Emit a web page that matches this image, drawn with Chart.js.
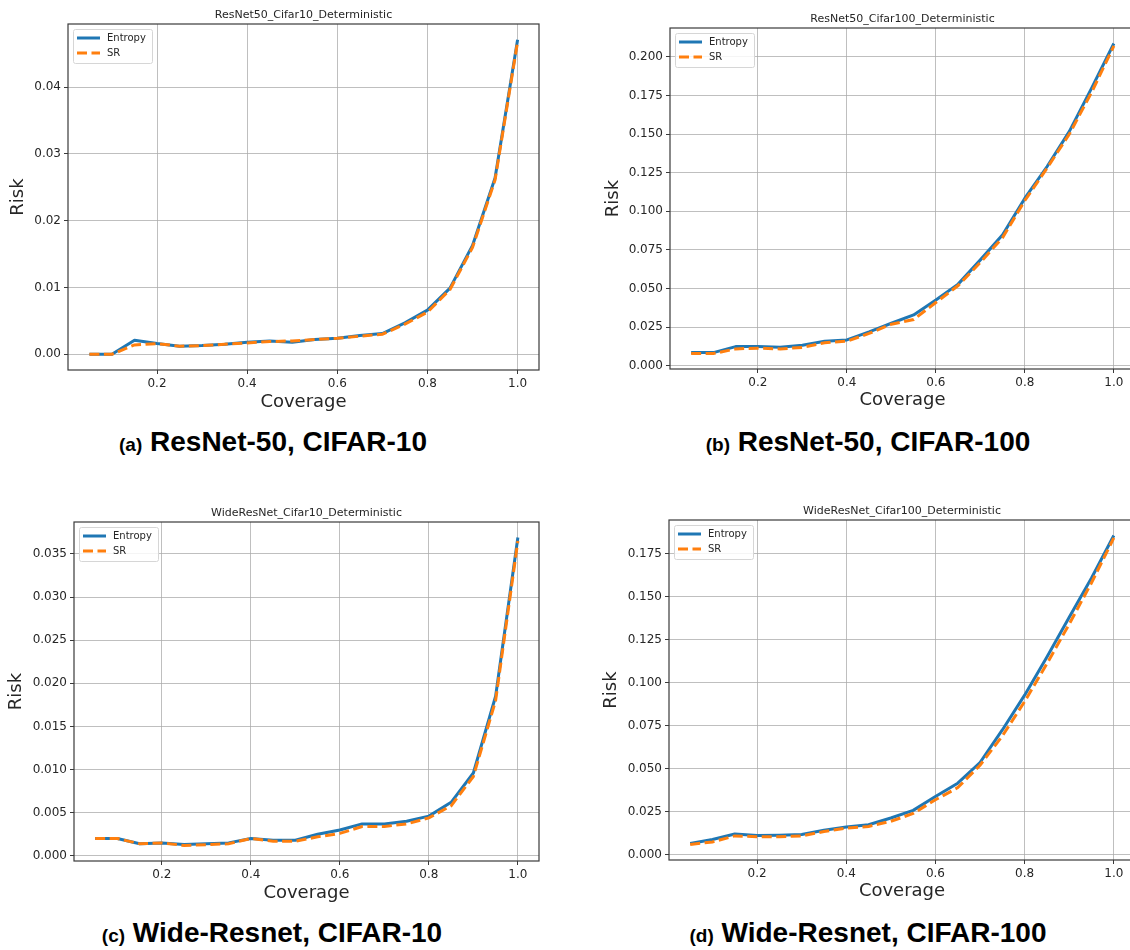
<!DOCTYPE html>
<html>
<head>
<meta charset="utf-8">
<script src="https://cdn.jsdelivr.net/npm/chart.js@4.4.0/dist/chart.umd.min.js"></script>
<style>
  html, body { margin: 0; padding: 0; background: #fff; }
  html { overflow: hidden; }
  body { width: 1130px; height: 950px; overflow: hidden; position: relative; }
  .panel { position: absolute; height: 420px; }
  .panel canvas { display: block; }
  .caption {
    position: absolute;
    transform: translate(-50%, -50%);
    font-family: "Liberation Sans", Arial, sans-serif;
    font-weight: bold;
    font-size: 28px;
    color: #000;
    white-space: nowrap;
  }
  .caption span { font-size: 19px; }
</style>
</head>
<body>
<div class="panel" style="left:0px;top:0px;width:560px"><canvas id="pa" width="560" height="420"></canvas></div>
<div class="panel" style="left:590px;top:0px;width:620px"><canvas id="pb" width="620" height="420"></canvas></div>
<div class="panel" style="left:0px;top:490px;width:560px"><canvas id="pc" width="560" height="420"></canvas></div>
<div class="panel" style="left:590px;top:490px;width:620px"><canvas id="pd" width="620" height="420"></canvas></div>

<div class="caption" style="left:273px;top:442px"><span>(a)</span> ResNet-50, CIFAR-10</div>
<div class="caption" style="left:868px;top:442px"><span>(b)</span> ResNet-50, CIFAR-100</div>
<div class="caption" style="left:272px;top:933px"><span>(c)</span> Wide-Resnet, CIFAR-10</div>
<div class="caption" style="left:868px;top:933px"><span>(d)</span> Wide-Resnet, CIFAR-100</div>

<script>
// ---- data ----
const coverage = [0.05, 0.10, 0.15, 0.20, 0.25, 0.30, 0.35, 0.40, 0.45, 0.50,
                  0.55, 0.60, 0.65, 0.70, 0.75, 0.80, 0.85, 0.90, 0.95, 1.00];
const seriesNames = ['Entropy', 'SR'];
const xTicks = [0.2, 0.4, 0.6, 0.8, 1.0];

// ResNet50 / Cifar10
const r50c10Entropy = [0.0000, 0.0000, 0.0021, 0.0016, 0.0012, 0.0013, 0.0015, 0.0018, 0.0020, 0.0018,
                       0.0022, 0.0024, 0.0028, 0.0031, 0.0047, 0.0066, 0.0099, 0.0163, 0.0264, 0.0471];
const r50c10SR      = [0.0000, 0.0000, 0.0014, 0.0016, 0.0012, 0.0013, 0.0015, 0.0017, 0.0019, 0.0020,
                       0.0022, 0.0024, 0.0027, 0.0030, 0.0045, 0.0063, 0.0097, 0.0160, 0.0261, 0.0468];
const r50c10Ticks   = [0, 0.01, 0.02, 0.03, 0.04];

// ResNet50 / Cifar100
const r50c100Entropy = [0.0086, 0.0086, 0.0125, 0.0125, 0.0120, 0.0134, 0.0160, 0.0168, 0.0220, 0.0276,
                        0.0330, 0.0427, 0.0529, 0.0686, 0.0848, 0.1085, 0.1290, 0.1517, 0.1797, 0.2086];
const r50c100SR      = [0.0080, 0.0080, 0.0110, 0.0115, 0.0110, 0.0120, 0.0150, 0.0160, 0.0210, 0.0270,
                        0.0300, 0.0410, 0.0520, 0.0670, 0.0830, 0.1070, 0.1280, 0.1500, 0.1770, 0.2070];
const r50c100Ticks   = [0, 0.025, 0.05, 0.075, 0.1, 0.125, 0.15, 0.175, 0.2];

// WideResNet / Cifar10
const wrnC10Entropy = [0.0020, 0.0020, 0.0014, 0.0015, 0.0013, 0.0014, 0.0015, 0.0020, 0.0018, 0.0018,
                       0.0025, 0.0030, 0.0037, 0.0037, 0.0040, 0.0046, 0.0062, 0.0096, 0.0185, 0.0369];
const wrnC10SR      = [0.0020, 0.0020, 0.0014, 0.0015, 0.0012, 0.0013, 0.0014, 0.0020, 0.0017, 0.0017,
                       0.0022, 0.0026, 0.0034, 0.0034, 0.0037, 0.0044, 0.0058, 0.0092, 0.0180, 0.0365];
const wrnC10Ticks   = [0, 0.005, 0.01, 0.015, 0.02, 0.025, 0.03, 0.035];

// WideResNet / Cifar100
const wrnC100Entropy = [0.0066, 0.0089, 0.0121, 0.0112, 0.0114, 0.0118, 0.0143, 0.0162, 0.0175, 0.0214,
                        0.0258, 0.0339, 0.0416, 0.0536, 0.0725, 0.0927, 0.1149, 0.1380, 0.1607, 0.1854];
const wrnC100SR      = [0.0060, 0.0075, 0.0110, 0.0105, 0.0105, 0.0110, 0.0135, 0.0155, 0.0165, 0.0195,
                        0.0240, 0.0320, 0.0390, 0.0520, 0.0690, 0.0890, 0.1110, 0.1340, 0.1580, 0.1840];
const wrnC100Ticks   = [0, 0.025, 0.05, 0.075, 0.1, 0.125, 0.15, 0.175];

// ---- styling ----
const TXT = '#262626';
const FONT = 'DejaVu Sans';
const GRID = 'rgba(170,170,170,0.75)';
const SPINE = '#3a3a3a';

// matplotlib-like full box around the axes
const framePlugin = {
  id: 'frame',
  afterDatasetsDraw(chart) {
    const { ctx, chartArea: a } = chart;
    ctx.save();
    ctx.strokeStyle = SPINE;
    ctx.lineWidth = 1.2;
    ctx.strokeRect(a.left, a.top, a.right - a.left, a.bottom - a.top);
    ctx.restore();
  }
};

// legend box in the upper-left corner of the axes
const insetLegend = {
  id: 'insetLegend',
  afterDraw(chart) {
    const { ctx, chartArea: a } = chart;
    const x = Math.round(a.left) + 5, y = Math.round(a.top) + 5, w = 79, h = 34;
    ctx.save();
    ctx.fillStyle = 'rgba(255,255,255,0.85)';
    ctx.strokeStyle = '#d6d6d6';
    ctx.lineWidth = 1;
    ctx.beginPath();
    ctx.roundRect(x + 0.5, y + 0.5, w, h, 2);
    ctx.fill();
    ctx.stroke();
    ctx.font = '10px "' + FONT + '"';
    ctx.textBaseline = 'middle';
    chart.data.datasets.forEach((ds, i) => {
      const cy = y + 9 + i * 15;
      ctx.strokeStyle = ds.borderColor;
      ctx.lineWidth = ds.borderWidth;
      ctx.setLineDash(ds.borderDash || []);
      ctx.beginPath();
      ctx.moveTo(x + 4, cy);
      ctx.lineTo(x + 27, cy);
      ctx.stroke();
      ctx.setLineDash([]);
      ctx.fillStyle = TXT;
      ctx.fillText(ds.label, x + 34, cy);
    });
    ctx.restore();
  }
};

function makePanel(id, p) {
  const pts = arr => coverage.map((c, i) => ({ x: c, y: arr[i] }));
  new Chart(document.getElementById(id), {
    type: 'line',
    data: {
      datasets: [
        // higher order is drawn first, so SR (dashed) ends up on top of Entropy
        { label: seriesNames[0], data: pts(p.entropy), borderColor: '#1f77b4', borderWidth: 3,
          pointRadius: 0, tension: 0, fill: false, borderJoinStyle: 'round', order: 2 },
        { label: seriesNames[1], data: pts(p.sr), borderColor: '#ff7f0e', borderWidth: 3,
          borderDash: [10, 4.5], pointRadius: 0, tension: 0, fill: false, order: 1 }
      ]
    },
    options: {
      responsive: false,
      animation: false,
      devicePixelRatio: 1,
      events: [],
      layout: { padding: { left: 0, top: 0, right: p.padRight, bottom: 0 } },
      plugins: {
        legend: { display: false },
        tooltip: { enabled: false },
        title: {
          display: true, text: p.title, fullSize: false, color: TXT,
          font: { family: FONT, size: 11, weight: 'normal', lineHeight: 1.2 },
          padding: { top: p.titleTop, bottom: p.titleBottom }
        }
      },
      scales: {
        x: {
          type: 'linear', min: 0.0025, max: 1.0475,
          afterBuildTicks: s => { s.ticks = xTicks.map(v => ({ value: v })); },
          afterFit: s => { s.height = p.xAxisH; },
          ticks: { callback: v => v.toFixed(1), color: TXT, font: { family: FONT, size: 12 },
                   padding: 3, maxRotation: 0, autoSkip: false },
          grid: { color: GRID, lineWidth: 1, tickLength: 4, tickColor: SPINE },
          border: { display: false },
          title: { display: true, text: 'Coverage', color: TXT,
                   font: { family: FONT, size: 18, lineHeight: 1.2 },
                   padding: { top: 0, bottom: p.xTitlePad } }
        },
        y: {
          type: 'linear', min: p.yMin, max: p.yMax,
          afterBuildTicks: s => { s.ticks = p.yTicks.map(v => ({ value: v })); },
          afterFit: s => { s.width = p.yAxisW; },
          ticks: { callback: v => v.toFixed(p.dec), color: TXT, font: { family: FONT, size: 12 },
                   padding: 3, autoSkip: false },
          grid: { color: GRID, lineWidth: 1, tickLength: 4, tickColor: SPINE },
          border: { display: false },
          title: { display: true, text: 'Risk', color: TXT,
                   font: { family: FONT, size: 18, lineHeight: 1.2 },
                   padding: { top: p.yTitlePad, bottom: 0 } }
        }
      }
    },
    plugins: [framePlugin, insetLegend]
  });
}

makePanel('pa', {
  title: 'ResNet50_Cifar10_Deterministic', entropy: r50c10Entropy, sr: r50c10SR,
  yTicks: r50c10Ticks, dec: 2, yMin: -0.00236, yMax: 0.04946,
  padRight: 21, yAxisW: 68, yTitlePad: 7.2, titleTop: 8.4, titleBottom: 2.4, xAxisH: 50, xTitlePad: 7.2
});
makePanel('pb', {
  title: 'ResNet50_Cifar100_Deterministic', entropy: r50c100Entropy, sr: r50c100SR,
  yTicks: r50c100Ticks, dec: 3, yMin: -0.002, yMax: 0.2186,
  padRight: 75, yAxisW: 80, yTitlePad: 12.2, titleTop: 12.4, titleBottom: 2.4, xAxisH: 51, xTitlePad: 9.2
});
makePanel('pc', {
  title: 'WideResNet_Cifar10_Deterministic', entropy: wrnC10Entropy, sr: wrnC10SR,
  yTicks: wrnC10Ticks, dec: 3, yMin: -0.0006, yMax: 0.0387,
  padRight: 21, yAxisW: 74, yTitlePad: 5.2, titleTop: 16.4, titleBottom: 2.4, xAxisH: 49, xTitlePad: 6.2
});
makePanel('pd', {
  title: 'WideResNet_Cifar100_Deterministic', entropy: wrnC100Entropy, sr: wrnC100SR,
  yTicks: wrnC100Ticks, dec: 3, yMin: -0.003, yMax: 0.1944,
  padRight: 75, yAxisW: 79, yTitlePad: 10.2, titleTop: 14.4, titleBottom: 2.4, xAxisH: 50, xTitlePad: 8.2
});
</script>
</body>
</html>
